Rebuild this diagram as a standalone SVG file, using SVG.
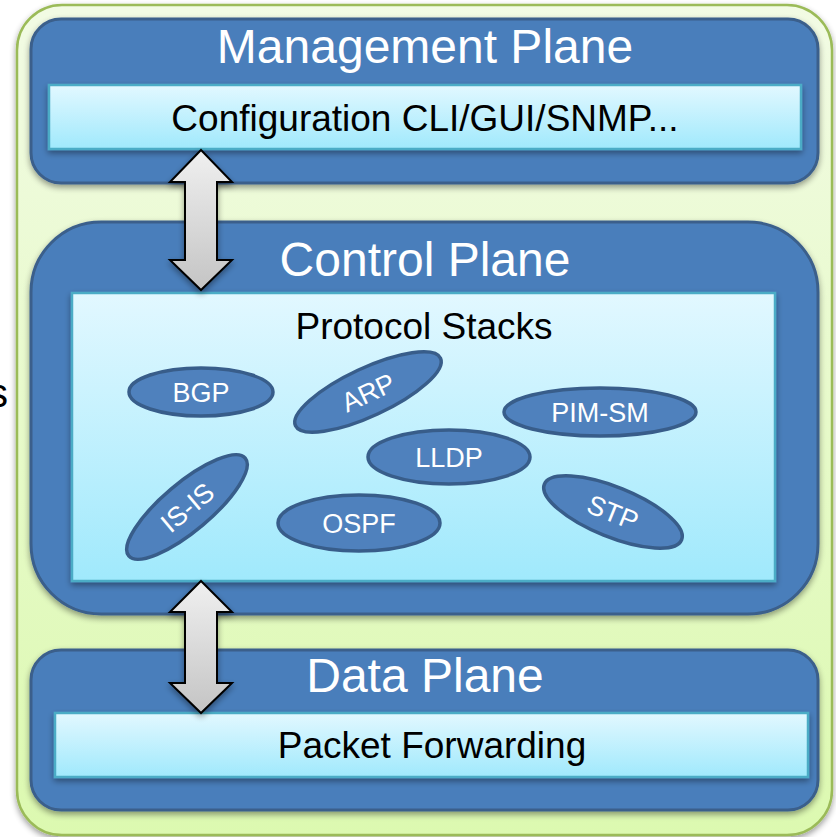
<svg xmlns="http://www.w3.org/2000/svg" width="836" height="837" viewBox="0 0 836 837">
<defs>
<linearGradient id="gGreen" x1="0" y1="0" x2="0" y2="1"><stop offset="0" stop-color="#f2fbe4"/><stop offset="1" stop-color="#dcf9b0"/></linearGradient>
<linearGradient id="gCyan" x1="0" y1="0" x2="0" y2="1"><stop offset="0" stop-color="#e2f8ff"/><stop offset="1" stop-color="#a0e9fc"/></linearGradient>
<linearGradient id="gArrow" x1="0" y1="0" x2="0" y2="1"><stop offset="0" stop-color="#f0f0f0"/><stop offset="1" stop-color="#c4c4c4"/></linearGradient>
<filter id="sh" x="-10%" y="-10%" width="120%" height="130%"><feGaussianBlur in="SourceAlpha" stdDeviation="3"/><feOffset dx="0" dy="3"/><feComponentTransfer><feFuncA type="linear" slope="0.4"/></feComponentTransfer><feMerge><feMergeNode/><feMergeNode in="SourceGraphic"/></feMerge></filter>
</defs>
<style>
.plane{fill:#4a7ebb;stroke:#3a5f8b;stroke-width:3}
.inner{fill:url(#gCyan);stroke:#4bacc6;stroke-width:2.5}
.ell{fill:#4f81bd;stroke:#385d8a;stroke-width:3.5}
.pt{font-family:"Liberation Sans",Arial,sans-serif;font-size:48px;fill:#ffffff;text-anchor:middle}
.bt{font-family:"Liberation Sans",Arial,sans-serif;font-size:37px;fill:#000000;text-anchor:middle}
.et{font-family:"Liberation Sans",Arial,sans-serif;font-size:27px;fill:#ffffff;text-anchor:middle}
.arr{fill:url(#gArrow);stroke:#000;stroke-width:2;stroke-linejoin:miter}
</style>
<rect x="0" y="0" width="836" height="837" fill="#ffffff"/>
<text x="8" y="407" font-family="Liberation Sans, Arial, sans-serif" font-size="40" fill="#000" text-anchor="end">s</text>
<g id="outer"><rect x="17" y="5" width="815" height="830" rx="45" fill="url(#gGreen)" stroke="#9bbb59" stroke-width="2.5" filter="url(#sh)"/></g>
<g id="management">
<rect class="plane" x="31" y="19" width="787" height="164" rx="30" filter="url(#sh)"/>
<text class="pt" x="425" y="63">Management Plane</text>
<rect class="inner" x="49" y="85" width="752" height="64" filter="url(#sh)"/>
<text class="bt" x="425" y="131">Configuration CLI/GUI/SNMP...</text>
</g>
<g id="control">
<rect class="plane" x="31" y="222" width="787" height="392" rx="70" filter="url(#sh)"/>
<text class="pt" x="425" y="276">Control Plane</text>
<rect class="inner" x="72" y="293" width="703" height="288" filter="url(#sh)"/>
<text class="bt" x="424" y="339">Protocol Stacks</text>
</g>
<g id="data">
<rect class="plane" x="31" y="650" width="787" height="160" rx="30" filter="url(#sh)"/>
<text class="pt" x="425" y="692">Data Plane</text>
<rect class="inner" x="55" y="713" width="753" height="64" filter="url(#sh)"/>
<text class="bt" x="432" y="758">Packet Forwarding</text>
</g>
<g id="bgp"><ellipse class="ell" cx="201" cy="392" rx="72" ry="24"/><text class="et" x="201" y="402">BGP</text></g>
<g id="arp" transform="translate(368,392) rotate(-25)"><ellipse class="ell" cx="0" cy="0" rx="80" ry="24"/><text class="et" x="0" y="10">ARP</text></g>
<g id="pimsm"><ellipse class="ell" cx="600" cy="412" rx="96" ry="24"/><text class="et" x="600" y="422">PIM-SM</text></g>
<g id="lldp"><ellipse class="ell" cx="449" cy="457" rx="81" ry="27"/><text class="et" x="449" y="467">LLDP</text></g>
<g id="isis" transform="translate(187,507) rotate(-40)"><ellipse class="ell" cx="0" cy="0" rx="76" ry="24"/><text class="et" x="0" y="10">IS-IS</text></g>
<g id="ospf"><ellipse class="ell" cx="359" cy="523" rx="81" ry="28"/><text class="et" x="359" y="533">OSPF</text></g>
<g id="stp" transform="translate(613,512) rotate(22)"><ellipse class="ell" cx="0" cy="0" rx="74" ry="25"/><text class="et" x="0" y="10">STP</text></g>
<g id="connectors">
<path class="arr" filter="url(#sh)" d="M201,150 L232,182 L217,182 L217,260 L232,260 L201,290 L170,260 L185,260 L185,182 L170,182 Z"/>
<path class="arr" filter="url(#sh)" d="M201,581 L232,612 L217,612 L217,683 L232,683 L201,713 L170,683 L185,683 L185,612 L170,612 Z"/>
</g>
</svg>
